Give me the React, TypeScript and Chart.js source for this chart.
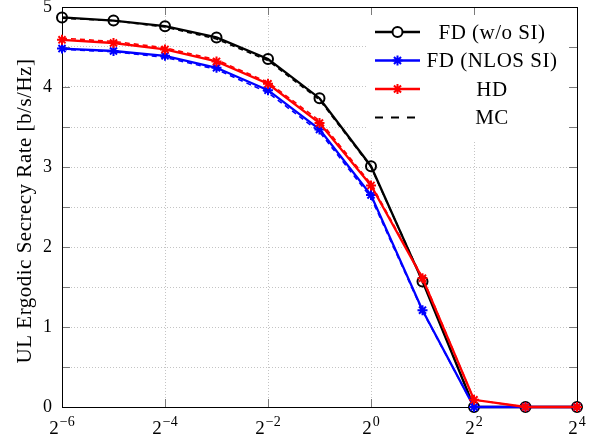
import React, { useEffect, useRef } from "react";
import { Chart, registerables } from "chart.js";

Chart.register(...registerables);

// ---------- data ----------
const exponents = [-6, -5, -4, -3, -2, -1, 0, 1, 2, 3, 4]; // x = 2^e
const fdNoSI = [4.87, 4.83, 4.76, 4.62, 4.35, 3.86, 3.01, 1.57, 0, 0, 0];
const fdNlosSI = [4.48, 4.45, 4.39, 4.24, 3.96, 3.47, 2.65, 1.21, 0, 0, 0];
const hd = [4.59, 4.55, 4.47, 4.32, 4.04, 3.55, 2.77, 1.61, 0.09, 0, 0];
const mcFdNoSI = [4.86, 4.83, 4.75, 4.6, 4.33, 3.84, 3.0, 1.58, 0, 0, 0];
const mcFdNlosSI = [4.47, 4.44, 4.37, 4.22, 3.93, 3.44, 2.62, 1.2, 0, 0, 0];
const mcHd = [4.61, 4.57, 4.49, 4.34, 4.06, 3.58, 2.79, 1.62, 0.09, 0, 0];
const xTickExponents = [-6, -4, -2, 0, 2, 4];
const legendLabels = ["FD (w/o SI)", "FD (NLOS SI)", "HD", "MC"];
const yTitle = "UL Ergodic Secrecy Rate [b/s/Hz]";

const FONT = '"Liberation Serif", "Times New Roman", serif';

function pts(vals: number[]) {
  return exponents.map((e, i) => ({ x: e, y: vals[i] }));
}

function drawStar(ctx: CanvasRenderingContext2D, x: number, y: number, r: number) {
  ctx.beginPath();
  for (let k = 0; k < 4; k++) {
    const a = (k * Math.PI) / 4;
    ctx.moveTo(x - r * Math.cos(a), y - r * Math.sin(a));
    ctx.lineTo(x + r * Math.cos(a), y + r * Math.sin(a));
  }
  ctx.stroke();
}

const gridPlugin = {
  id: "frameTicks",
  beforeDatasetsDraw(chart: any) {
    const ctx: CanvasRenderingContext2D = chart.ctx;
    const { left, right, top, bottom } = chart.chartArea;
    const xs = chart.scales.x;
    const ys = chart.scales.y;
    ctx.save();
    // legend background
    ctx.fillStyle = "#ffffff";
    ctx.fillRect(366, top, right - 366, 140 - top);

    // inward tick marks
    ctx.strokeStyle = "#7a7a7a";
    ctx.lineWidth = 1;
    const tl = 8;
    ctx.beginPath();
    for (const t of ys.ticks) {
      const py = Math.round(ys.getPixelForValue(t.value)) + 0.5;
      ctx.moveTo(left, py);
      ctx.lineTo(left + tl, py);
      ctx.moveTo(right, py);
      ctx.lineTo(right - tl, py);
    }
    for (const e of xTickExponents) {
      const px = Math.round(xs.getPixelForValue(e)) + 0.5;
      ctx.moveTo(px, bottom);
      ctx.lineTo(px, bottom - tl);
      ctx.moveTo(px, top);
      ctx.lineTo(px, top + tl);
    }
    ctx.stroke();

    // frame
    ctx.strokeStyle = "#000000";
    ctx.lineWidth = 1;
    ctx.strokeRect(Math.round(left) + 0.5, Math.round(top) + 0.5, Math.round(right - left), Math.round(bottom - top));
    ctx.restore();
  },
};

const overlayPlugin = {
  id: "overlay",
  afterDatasetsDraw(chart: any) {
    const ctx: any = chart.ctx;
    const xs = chart.scales.x;
    ctx.save();

    // legend entries
    const colors = ["#000000", "#0000ff", "#ff0000", "#000000"];
    const lx0 = 375;
    const lx1 = 420;
    const mx = (lx0 + lx1) / 2;
    legendLabels.forEach((lab, i) => {
      const y = 32 + i * 28.5;
      ctx.strokeStyle = colors[i];
      ctx.lineWidth = 2.5;
      if (i === 3) {
        ctx.setLineDash([8, 8]);
        ctx.lineWidth = 2;
      }
      ctx.beginPath();
      ctx.moveTo(lx0, y);
      ctx.lineTo(lx1, y);
      ctx.stroke();
      ctx.setLineDash([]);
      ctx.lineWidth = 2;
      if (i === 0) {
        ctx.beginPath();
        ctx.arc(mx, y, 5, 0, Math.PI * 2);
        ctx.fillStyle = "#ffffff";
        ctx.fill();
        ctx.stroke();
      } else if (i === 1 || i === 2) {
        drawStar(ctx, mx, y, 5);
      }
      ctx.fillStyle = "#000000";
      ctx.font = `21px ${FONT}`;
      ctx.letterSpacing = "0.5px";
      ctx.textAlign = "center";
      ctx.textBaseline = "middle";
      ctx.fillText(lab, 492, y + 1);
      ctx.letterSpacing = "0px";
    });

    // x tick labels 2^e
    ctx.fillStyle = "#000000";
    ctx.textBaseline = "alphabetic";
    ctx.textAlign = "left";
    for (const e of xTickExponents) {
      const px = xs.getPixelForValue(e);
      const expStr = e < 0 ? "\u2212" + Math.abs(e) : String(e);
      ctx.font = `19px ${FONT}`;
      const wb = ctx.measureText("2").width;
      ctx.font = `14px ${FONT}`;
      const we = ctx.measureText(expStr).width;
      const x0 = px - (wb + we + 1) / 2;
      ctx.font = `19px ${FONT}`;
      ctx.fillText("2", x0, 434);
      ctx.font = `14px ${FONT}`;
      ctx.fillText(expStr, x0 + wb + 1, 426);
    }

    // y title
    ctx.save();
    ctx.translate(31, 211);
    ctx.rotate(-Math.PI / 2);
    ctx.font = `21px ${FONT}`;
    ctx.letterSpacing = "0.5px";
    ctx.textAlign = "center";
    ctx.textBaseline = "alphabetic";
    ctx.fillText(yTitle, 0, 0);
    ctx.restore();

    ctx.restore();
  },
};

export default function App() {
  const ref = useRef<HTMLCanvasElement | null>(null);

  useEffect(() => {
    if (!ref.current) return;
    const lineBase = {
      borderWidth: 2.3,
      pointRadius: 5,
      pointBorderWidth: 2,
      pointBackgroundColor: "rgba(0,0,0,0)",
      tension: 0,
      fill: false,
      clip: false,
    };
    const mcBase = {
      borderWidth: 1.6,
      borderDash: [5, 4],
      pointRadius: 0,
      tension: 0,
      fill: false,
      clip: false,
    };
    const chart = new Chart(ref.current, {
      type: "line",
      data: {
        datasets: [
          { ...lineBase, label: legendLabels[0], data: pts(fdNoSI), borderColor: "#000000", pointBorderColor: "#000000", pointStyle: "circle", order: 2 },
          { ...lineBase, label: legendLabels[1], data: pts(fdNlosSI), borderColor: "#0000ff", pointBorderColor: "#0000ff", pointStyle: "star", order: 1 },
          { ...lineBase, label: legendLabels[2], data: pts(hd), borderColor: "#ff0000", pointBorderColor: "#ff0000", pointStyle: "star", order: 0 },
          { ...mcBase, label: "MC FD (w/o SI)", data: pts(mcFdNoSI), borderColor: "#000000", order: 5 },
          { ...mcBase, label: "MC FD (NLOS SI)", data: pts(mcFdNlosSI), borderColor: "#0000ff", order: 4 },
          { ...mcBase, label: "MC HD", data: pts(mcHd), borderColor: "#ff0000", order: 3 },
        ] as any,
      },
      options: {
        animation: false,
        responsive: false,
        maintainAspectRatio: false,
        layout: { padding: { top: 7, right: 23, left: 0, bottom: 0 } },
        plugins: { legend: { display: false }, tooltip: { enabled: false } },
        scales: {
          x: {
            type: "linear",
            min: -6,
            max: 4,
            ticks: { stepSize: 2, display: false },
            grid: { color: "#c4c4c4", lineWidth: 1, drawTicks: false },
            border: { display: false, dash: [1, 2] },
            afterFit: (s: any) => {
              s.height = 38;
              s.paddingLeft = 0;
              s.paddingRight = 0;
            },
          },
          y: {
            type: "linear",
            min: 0,
            max: 5,
            ticks: {
              stepSize: 0.5,
              autoSkip: false,
              padding: 10,
              color: "#000000",
              font: { family: FONT, size: 18 },
              callback: (v: any) => (Number.isInteger(v) ? String(v) : ""),
            },
            grid: { color: "#c4c4c4", lineWidth: 1, drawTicks: false },
            border: { display: false, dash: [1, 2] },
            afterFit: (s: any) => {
              s.width = 62;
              s.paddingTop = 0;
              s.paddingBottom = 0;
            },
          },
        },
      } as any,
      plugins: [gridPlugin, overlayPlugin],
    });
    return () => chart.destroy();
  }, []);

  return (
    <div style={{ position: "absolute", left: 0, top: 0, width: 600, height: 445, background: "#fff" }}>
      <canvas ref={ref} width={600} height={445} style={{ display: "block" }} />
    </div>
  );
}
